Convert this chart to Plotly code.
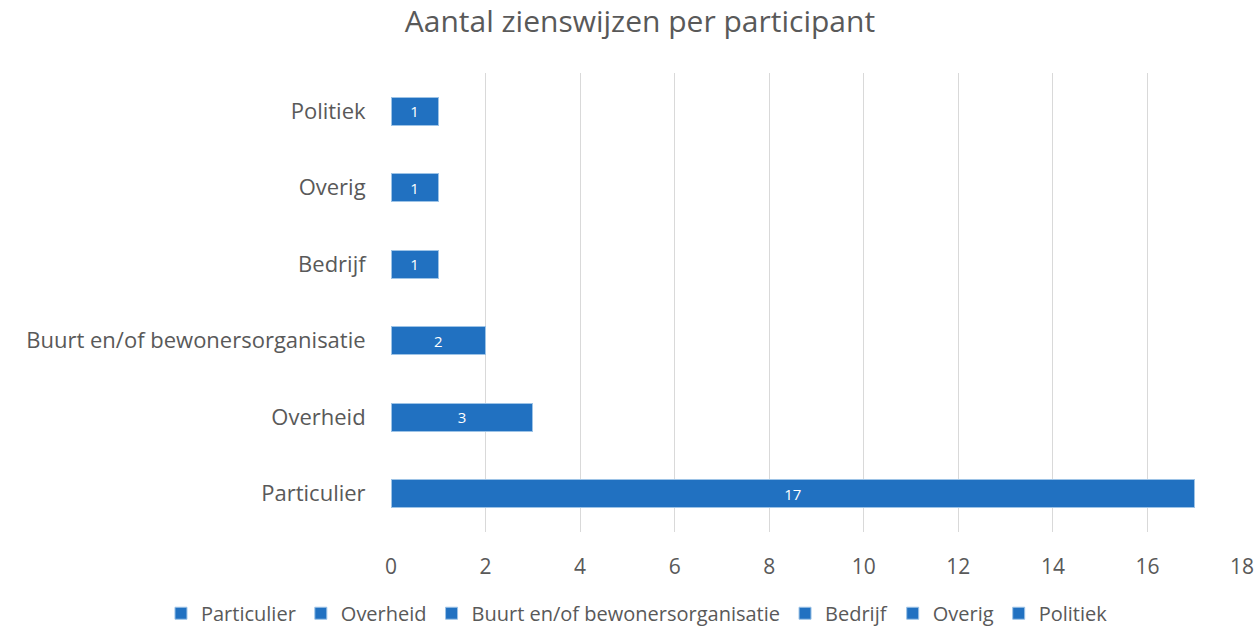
import plotly.graph_objects as go

categories = ["Particulier", "Overheid", "Buurt en/of bewonersorganisatie", "Bedrijf", "Overig", "Politiek"]
values = [17, 3, 2, 1, 1, 1]
x_ticks = [0, 2, 4, 6, 8, 10, 12, 14, 16, 18]

FONT = "Open Sans"
GRAY = "#595959"
BAR = "#2171c1"

fig = go.Figure()
for cat, val in zip(categories, values):
    fig.add_trace(go.Bar(
        y=[cat], x=[val], name=cat, orientation="h",
        marker=dict(color=BAR, line=dict(color="#9dc3e6", width=1)),
        width=0.36,
        text=[str(val)], textposition="inside", insidetextanchor="middle",
        textfont=dict(color="white", size=15, family=FONT),
    ))

fig.update_layout(
    width=1258, height=629,
    barmode="stack",
    paper_bgcolor="white", plot_bgcolor="white",
    margin=dict(l=391, r=16, t=73, b=97, autoexpand=False),
    title=dict(text="Aantal zienswijzen per participant", x=0.5087, xanchor="center",
               y=0.966, yanchor="middle",
               font=dict(family=FONT, size=30, color=GRAY)),
    xaxis=dict(range=[0, 18], tickvals=x_ticks, showgrid=True, gridcolor="#d9d9d9",
               gridwidth=1, zeroline=False, showline=False,
               tickfont=dict(family=FONT, size=21, color=GRAY),
               ticks="outside", ticklen=16, tickcolor="white"),
    yaxis=dict(categoryorder="array", categoryarray=categories, showgrid=False,
               tickfont=dict(family=FONT, size=22, color=GRAY), ticks="outside",
               ticklen=20, tickcolor="white", showline=False),
    legend=dict(orientation="h", x=-0.2703, xanchor="left", y=-0.177, yanchor="middle",
                traceorder="normal", font=dict(family=FONT, size=20, color=GRAY)),
    uniformtext=dict(minsize=8, mode="show"),
    showlegend=True,
)
fig.update_xaxes(automargin=False)
fig.update_yaxes(automargin=False)
fig.write_html("out.html", config={"displayModeBar": False},
               post_script="document.body.style.margin='0';document.body.style.overflow='hidden';")
